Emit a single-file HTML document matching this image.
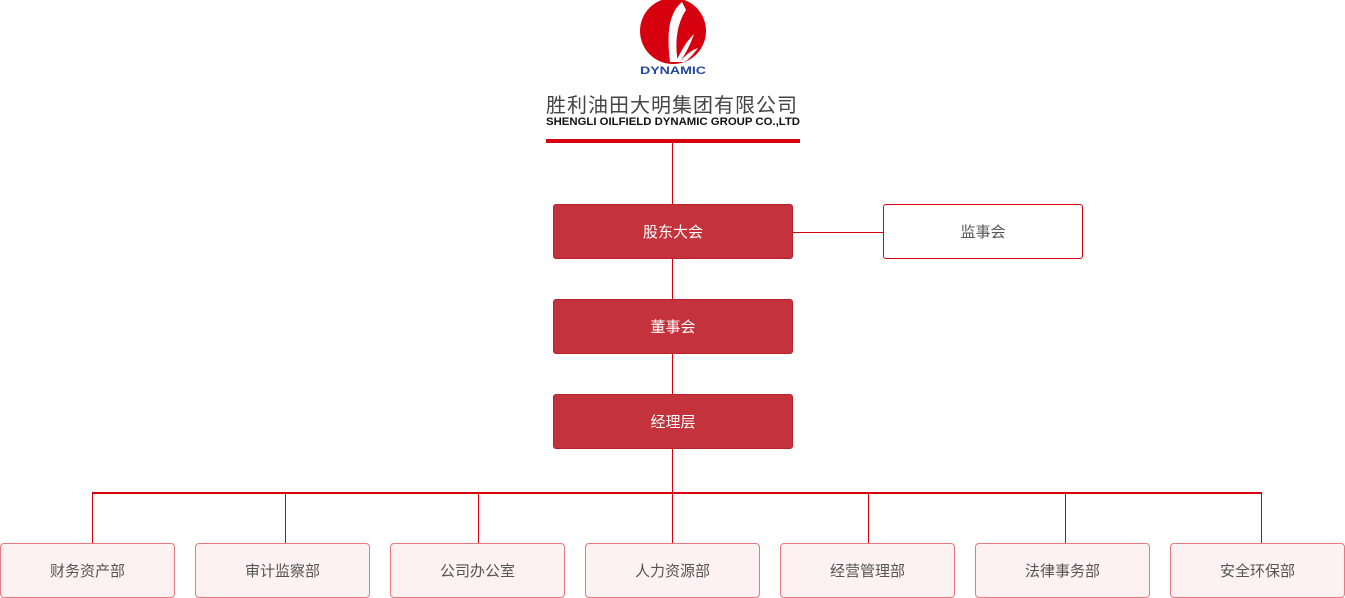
<!DOCTYPE html>
<html><head><meta charset="utf-8"><style>
body{margin:0;width:1345px;height:598px;background:#fff;position:relative;overflow:hidden;font-family:"Liberation Sans","Noto Sans CJK SC",sans-serif}
.a{position:absolute}
.l{position:absolute;background:#d7000f}
.r{position:absolute;background:#c4323c;border:1px solid #b8202c;border-radius:3px;color:#fff;font-size:15px;display:flex;align-items:center;justify-content:center;box-sizing:border-box}
.w{position:absolute;background:#fff;border:1px solid #d7000f;border-radius:3px;color:#555;font-size:15px;display:flex;align-items:center;justify-content:center;box-sizing:border-box}
.p{position:absolute;top:543px;width:175px;height:55px;background:#fdf1f1;border:1px solid #e77a7f;border-radius:4px;color:#555;font-size:15px;display:flex;align-items:center;justify-content:center;box-sizing:border-box}
</style></head><body>
<svg class="a" style="left:630px;top:0" width="90" height="80">
<circle cx="43" cy="31" r="33" fill="#d7000f"/>
<path d="M52 2 C40 12 36 30 40 62 L48 62 C44 40 48 22 56 10 Z" fill="#fff"/>
<path d="M46 62 C52 48 58 40 64 34 C60 46 54 56 50 62Z" fill="#fff"/>
<path d="M50 62 C56 54 62 50 68 48 C62 56 58 60 54 62Z" fill="#fff"/>
<text x="43" y="74" text-anchor="middle" font-family="Liberation Sans" font-weight="bold" font-size="11" fill="#1f4a9c" textLength="66" lengthAdjust="spacingAndGlyphs">DYNAMIC</text>
</svg>
<div class="a" style="left:546px;top:89px;font-size:20px;color:#444;letter-spacing:1px;white-space:nowrap">胜利油田大明集团有限公司</div>
<svg class="a" style="left:546px;top:113px" width="256" height="16"><text x="0" y="12" font-family="Liberation Sans" font-weight="bold" font-size="11" fill="#111" textLength="254" lengthAdjust="spacingAndGlyphs">SHENGLI OILFIELD DYNAMIC GROUP CO.,LTD</text></svg>
<div class="l" style="left:546px;top:139px;width:254px;height:4px"></div>
<div class="l" style="left:672px;top:143px;width:1px;height:350px"></div>
<div class="l" style="left:793px;top:232px;width:90px;height:1px"></div>
<div class="l" style="left:92px;top:492px;width:1170px;height:2px"></div>
<div class="l" style="left:92px;top:493px;width:1px;height:50px"></div>
<div class="l" style="left:285px;top:493px;width:1px;height:50px"></div>
<div class="l" style="left:478px;top:493px;width:1px;height:50px"></div>
<div class="l" style="left:672px;top:493px;width:1px;height:50px"></div>
<div class="l" style="left:868px;top:493px;width:1px;height:50px"></div>
<div class="l" style="left:1065px;top:493px;width:1px;height:50px"></div>
<div class="l" style="left:1261px;top:493px;width:1px;height:50px"></div>
<div class="r" style="left:553px;top:204px;width:240px;height:55px">股东大会</div>
<div class="w" style="left:883px;top:204px;width:200px;height:55px">监事会</div>
<div class="r" style="left:553px;top:299px;width:240px;height:55px">董事会</div>
<div class="r" style="left:553px;top:394px;width:240px;height:55px">经理层</div>
<div class="p" style="left:0px">财务资产部</div>
<div class="p" style="left:195px">审计监察部</div>
<div class="p" style="left:390px">公司办公室</div>
<div class="p" style="left:585px">人力资源部</div>
<div class="p" style="left:780px">经营管理部</div>
<div class="p" style="left:975px">法律事务部</div>
<div class="p" style="left:1170px">安全环保部</div>
</body></html>
